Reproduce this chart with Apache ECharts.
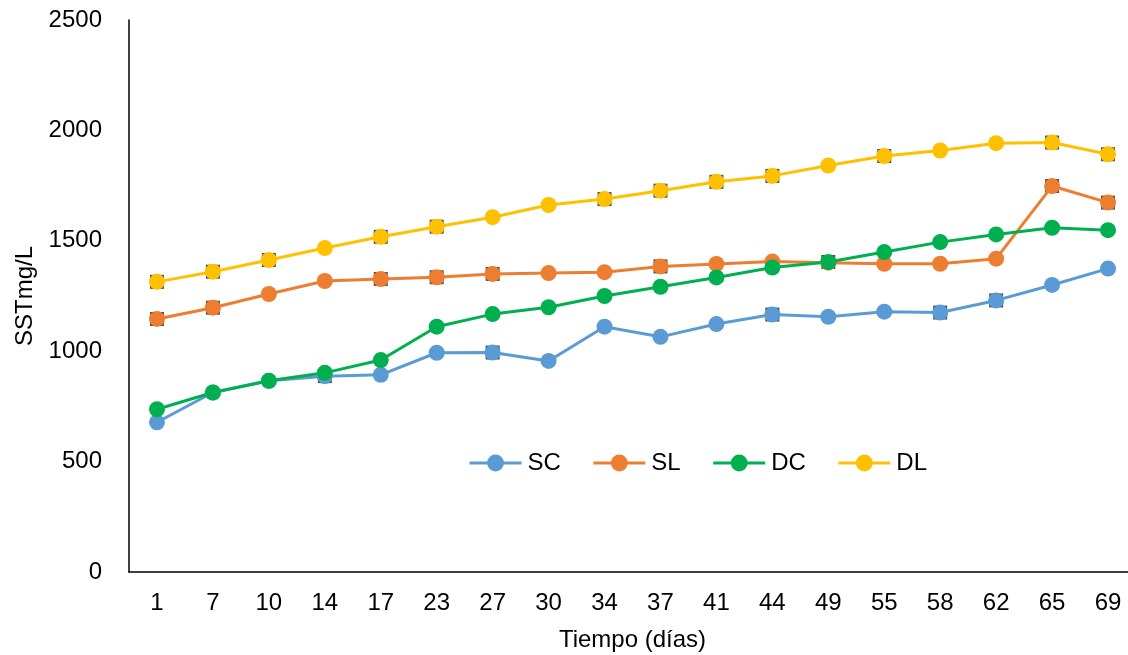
<!DOCTYPE html>
<html>
<head>
<meta charset="utf-8">
<script src="https://cdn.jsdelivr.net/npm/echarts@6/dist/echarts.min.js"></script>
<style>
  html, body { margin: 0; padding: 0; background: #ffffff; }
  #chart { width: 1128px; height: 655px; }
</style>
</head>
<body>
<div id="chart"></div>
<script>
// Sampling days
const days = ['1', '7', '10', '14', '17', '23', '27', '30', '34', '37', '41', '44', '49', '55', '58', '62', '65', '69'];

// Suspended solids (mg/L) per treatment
const SC = [678, 813, 866, 887, 893, 993, 994, 956, 1111, 1065, 1123, 1166, 1156, 1179, 1175, 1230, 1300, 1374];
const SL = [1146, 1197, 1259, 1318, 1327, 1335, 1350, 1354, 1358, 1384, 1395, 1406, 1401, 1396, 1396, 1419, 1748, 1673];
const DC = [737, 813, 866, 902, 960, 1111, 1168, 1199, 1250, 1292, 1334, 1379, 1404, 1449, 1494, 1529, 1559, 1548];
const DL = [1314, 1360, 1413, 1467, 1518, 1564, 1607, 1662, 1689, 1727, 1767, 1794, 1841, 1884, 1909, 1942, 1945, 1892];

// Days whose points carry the small square box marker behind the circle
const boxDaysSC = ['14', '27', '44', '58', '62'];
const boxDaysSL = ['1', '7', '17', '23', '27', '37', '65', '69'];
const boxDaysDC = ['49'];
const boxDaysDL = ['1', '7', '10', '17', '23', '34', '37', '41', '44', '55', '65', '69'];

const yTicks = { min: 0, max: 2500, interval: 500 };

const colors = { SC: '#5B9BD5', SL: '#ED7D31', DC: '#00B050', DL: '#FFC000' };
const FONT = 'Liberation Sans, Arial, sans-serif';

function lineSeries(name, data) {
  return {
    name: name,
    type: 'line',
    data: data,
    symbol: 'circle',
    symbolSize: 16,
    color: colors[name],
    lineStyle: { width: 3, color: colors[name] },
    itemStyle: { color: colors[name] },
    z: 3,
    emphasis: { disabled: true }
  };
}

function boxSeries(values, boxDays) {
  return {
    type: 'scatter',
    data: boxDays.map(d => [d, values[days.indexOf(d)]]),
    symbol: 'rect',
    symbolSize: 14,
    itemStyle: { color: '#222222' },
    z: 2,
    silent: true,
    legendHoverLink: false,
    emphasis: { disabled: true }
  };
}

const chart = echarts.init(document.getElementById('chart'), null, { renderer: 'canvas' });
chart.setOption({
  animation: false,
  backgroundColor: '#ffffff',
  grid: { left: 129, right: -8, top: 20, bottom: 83, containLabel: false, outerBoundsMode: 'none' },
  legend: {
    data: ['SC', 'SL', 'DC', 'DL'],
    left: 463,
    top: 446,
    itemWidth: 52,
    itemHeight: 21,
    itemGap: 31,
    lineStyle: { width: 3 },
    textStyle: { fontFamily: FONT, fontSize: 24, color: '#000000', padding: [0, 0, 0, 1] }
  },
  xAxis: {
    type: 'category',
    data: days,
    boundaryGap: true,
    name: 'Tiempo (días)',
    nameLocation: 'middle',
    nameGap: 56,
    nameTextStyle: { fontFamily: FONT, fontSize: 24, color: '#000000' },
    axisLine: { show: true, lineStyle: { color: '#000000', width: 1.5 } },
    axisTick: { show: false },
    axisLabel: { fontFamily: FONT, fontSize: 24, color: '#000000', margin: 19 },
    splitLine: { show: false }
  },
  yAxis: {
    type: 'value',
    min: yTicks.min,
    max: yTicks.max,
    interval: yTicks.interval,
    name: 'SSTmg/L',
    nameLocation: 'middle',
    nameGap: 85,
    nameRotate: 90,
    nameTextStyle: { fontFamily: FONT, fontSize: 24, color: '#000000' },
    axisLine: { show: true, lineStyle: { color: '#000000', width: 1.5 } },
    axisTick: { show: false },
    axisLabel: { fontFamily: FONT, fontSize: 24, color: '#000000', margin: 27, formatter: v => String(v) },
    splitLine: { show: false }
  },
  series: [
    boxSeries(SC, boxDaysSC),
    boxSeries(SL, boxDaysSL),
    boxSeries(DC, boxDaysDC),
    boxSeries(DL, boxDaysDL),
    lineSeries('SC', SC),
    lineSeries('SL', SL),
    lineSeries('DC', DC),
    lineSeries('DL', DL)
  ]
});
</script>
</body>
</html>
